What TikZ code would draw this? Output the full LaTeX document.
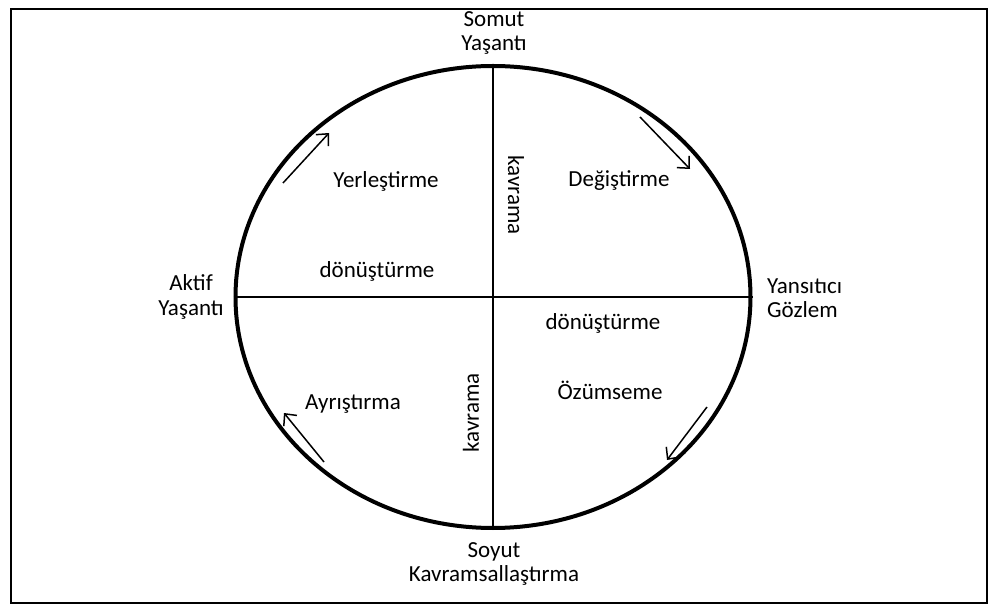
\documentclass[tikz,border=0pt]{standalone}
\usepackage{fontspec}
\setmainfont{Carlito}
\usetikzlibrary{shapes.geometric,arrows.meta}
\begin{document}
\begin{tikzpicture}[x=1pt,y=-1pt,
  lbl/.style={font=\fontsize{23}{24.5}\selectfont, inner sep=0pt, align=center},
  flow/.style={line width=1.5pt, -{Straight Barb[length=9pt,width=17pt,line width=1.5pt]}}]
\useasboundingbox (0,0) rectangle (997,612);
\node[draw, line width=2pt, minimum width=976pt, minimum height=594pt, inner sep=0pt] (frame) at (499,306) {};
\node[draw, ellipse, line width=4pt, minimum width=515pt, minimum height=462pt, inner sep=0pt] (E) at (493,297) {};
\draw[line width=2.5pt] (E.north) -- (E.south);
\draw[line width=2.5pt] (E.west) -- (E.east);
% outer labels
\node[lbl] (top) at (494,33) {Somut\\Yaşantı};
\node[lbl] (bot) at (494,564) {Soyut\\Kavramsallaştırma};
\node[lbl] (left) at (191,297) {Aktif\\Yaşantı};
\node[lbl, anchor=west, align=left] (right) at (767,298) {Yansıtıcı\\Gözlem};
% inner labels
\node[lbl] (yer) at (386,181) {Yerleştirme};
\node[lbl] (deg) at (619,181) {Değiştirme};
\node[lbl] (ayr) at (353,404) {Ayrıştırma};
\node[lbl] (ozu) at (610,390) {Özümseme};
\node[lbl] (don1) at (377,271) {dönüştürme};
\node[lbl] (don2) at (603,323) {dönüştürme};
\node[lbl, rotate=-90] (kav1) at (516,195) {kavrama};
\node[lbl, rotate=90] (kav2) at (471,413) {kavrama};
% arrows
\coordinate (a1s) at (283,183); \coordinate (a1e) at (329,133);
\coordinate (a2s) at (640,117); \coordinate (a2e) at (690,169);
\coordinate (a3s) at (324,462); \coordinate (a3e) at (284,413);
\coordinate (a4s) at (707,407); \coordinate (a4e) at (667,460);
\draw[flow] (a1s) -- (a1e);
\draw[flow] (a2s) -- (a2e);
\draw[flow] (a3s) -- (a3e);
\draw[flow] (a4s) -- (a4e);
\end{tikzpicture}
\end{document}
